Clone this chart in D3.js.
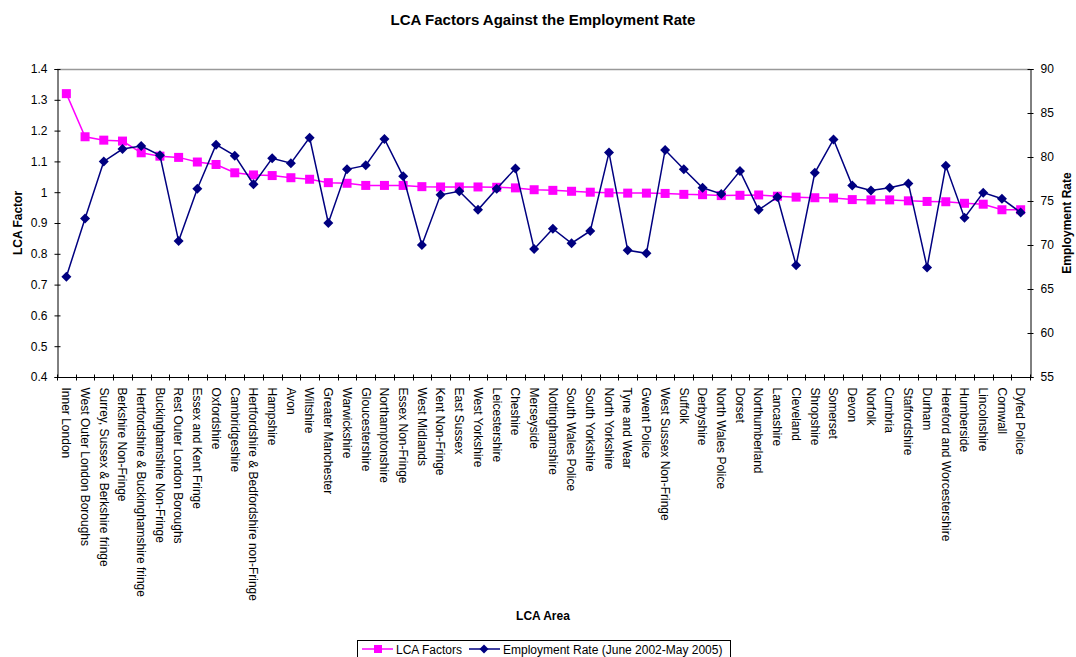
<!DOCTYPE html>
<html>
<head>
<meta charset="utf-8">
<script src="https://cdn.jsdelivr.net/npm/d3@7"></script>
<style>
  html, body { margin: 0; padding: 0; background: #fff; }
  svg { display: block; font-family: "Liberation Sans", Arial, sans-serif; }
</style>
</head>
<body>
<svg id="chart" width="1076" height="657"></svg>
<script>
// LCA areas, ordered by LCA factor
const areas = [
  "Inner London", "West Outer London Boroughs", "Surrey, Sussex & Berkshire fringe",
  "Berkshire Non-Fringe", "Hertfordshire & Buckinghamshire fringe", "Buckinghamshire Non-Fringe",
  "Rest Outer London Boroughs", "Essex and Kent Fringe", "Oxfordshire", "Cambridgeshire",
  "Hertfordshire & Bedfordshire non-Fringe", "Hampshire", "Avon", "Wiltshire",
  "Greater Manchester", "Warwickshire", "Gloucestershire", "Northamptonshire",
  "Essex Non-Fringe", "West Midlands", "Kent Non-Fringe", "East Sussex", "West Yorkshire",
  "Leicestershire", "Cheshire", "Merseyside", "Nottinghamshire", "South Wales Police",
  "South Yorkshire", "North Yorkshire", "Tyne and Wear", "Gwent Police",
  "West Sussex Non-Fringe", "Suffolk", "Derbyshire", "North Wales Police", "Dorset",
  "Northumberland", "Lancashire", "Cleveland", "Shropshire", "Somerset", "Devon",
  "Norfolk", "Cumbria", "Staffordshire", "Durham", "Hereford and Worcestershire",
  "Humberside", "Lincolnshire", "Cornwall", "Dyfed Police"
];

// LCA factor per area (left axis)
const lcaFactors = [
  1.32, 1.18, 1.169, 1.166, 1.128, 1.117, 1.113, 1.098, 1.09, 1.063,
  1.056, 1.054, 1.047, 1.042, 1.031, 1.029, 1.022, 1.022, 1.022, 1.018,
  1.017, 1.017, 1.017, 1.016, 1.014, 1.008, 1.006, 1.003, 1.0, 0.998,
  0.997, 0.997, 0.996, 0.993, 0.992, 0.989, 0.99, 0.991, 0.987, 0.984,
  0.982, 0.981, 0.976, 0.975, 0.975, 0.972, 0.97, 0.969, 0.964, 0.961,
  0.943, 0.943
];

// Employment rate (%), June 2002 - May 2005 (right axis)
const employmentRate = [
  66.4, 73.0, 79.5, 80.9, 81.25, 80.2, 70.45, 76.4, 81.4, 80.15,
  76.9, 79.85, 79.3, 82.2, 72.5, 78.6, 79.05, 82.05, 77.8, 70.0,
  75.7, 76.1, 74.0, 76.4, 78.7, 69.55, 71.85, 70.2, 71.6, 80.5,
  69.4, 69.05, 80.8, 78.6, 76.5, 75.8, 78.4, 74.0, 75.45, 67.7,
  78.2, 82.0, 76.75, 76.2, 76.5, 77.0, 67.45, 79.0, 73.1, 75.95,
  75.25, 73.7
];

const leftTicks = [0.4, 0.5, 0.6, 0.7, 0.8, 0.9, 1.0, 1.1, 1.2, 1.3, 1.4];
const rightTicks = [55, 60, 65, 70, 75, 80, 85, 90];

const seriesNames = ["LCA Factors", "Employment Rate (June 2002-May 2005)"];
const pink = "#ff00ff";
const navy = "#000080";
const fs = 12;

const svg = d3.select("#chart");
const plot = { left: 57, right: 1030, top: 69, bottom: 377 };

const x = d3.scaleBand().domain(areas).range([plot.left, plot.right]).padding(0);
const yLeft = d3.scaleLinear().domain([0.4, 1.4]).range([plot.bottom, plot.top]);
const yRight = d3.scaleLinear().domain([55, 90]).range([plot.bottom, plot.top]);
const cx = d => x(d) + x.bandwidth() / 2;

// Title
svg.append("text")
  .attr("x", 543).attr("y", 25)
  .attr("text-anchor", "middle")
  .attr("font-size", 15).attr("font-weight", "bold")
  .text("LCA Factors Against the Employment Rate");

// Top border of the plot area
svg.append("line")
  .attr("x1", plot.left).attr("x2", plot.right)
  .attr("y1", plot.top + 0.5).attr("y2", plot.top + 0.5)
  .attr("stroke", "#999").attr("stroke-width", 1.5);

// Left axis (tick marks cross the axis line)
const gL = svg.append("g")
  .attr("transform", `translate(${plot.left + 0.5},0)`)
  .call(d3.axisLeft(yLeft).tickValues(leftTicks).tickSize(3).tickPadding(7)
    .tickFormat(d => d === 1 ? "1" : d3.format(".1f")(d)));
gL.selectAll(".tick line").attr("x1", 3);

// Right axis
const gR = svg.append("g")
  .attr("transform", `translate(${plot.right + 0.5},0)`)
  .call(d3.axisRight(yRight).tickValues(rightTicks).tickSize(3).tickPadding(7));
gR.selectAll(".tick line").attr("x1", -3);

[gL, gR].forEach(g => {
  g.select(".domain").attr("stroke", "#000");
  g.selectAll(".tick line").attr("stroke", "#000");
  g.selectAll(".tick text").attr("font-size", fs).attr("fill", "#000")
    .attr("font-family", "Liberation Sans, Arial, sans-serif");
});

// Bottom axis: ticks at category boundaries, labels rotated
const gB = svg.append("g").attr("transform", `translate(0,${plot.bottom + 0.5})`);
gB.append("line")
  .attr("x1", plot.left).attr("x2", plot.right + 1)
  .attr("stroke", "#000");
const bounds = areas.map(a => x(a)).concat([plot.right]);
gB.selectAll("line.tk").data(bounds).join("line")
  .attr("class", "tk")
  .attr("x1", d => Math.round(d) + 0.5).attr("x2", d => Math.round(d) + 0.5)
  .attr("y1", -3).attr("y2", 3)
  .attr("stroke", "#000");
gB.selectAll("text.cat").data(areas).join("text")
  .attr("class", "cat")
  .attr("transform", d => `translate(${cx(d)},10) rotate(90)`)
  .attr("dy", "0.35em")
  .attr("text-anchor", "start")
  .attr("font-size", fs)
  .text(d => d);

// Axis titles
svg.append("text")
  .attr("transform", `translate(22,${(plot.top + plot.bottom) / 2}) rotate(-90)`)
  .attr("text-anchor", "middle")
  .attr("font-size", fs).attr("font-weight", "bold")
  .text("LCA Factor");
svg.append("text")
  .attr("transform", `translate(1071,${(plot.top + plot.bottom) / 2}) rotate(-90)`)
  .attr("text-anchor", "middle")
  .attr("font-size", fs).attr("font-weight", "bold")
  .text("Employment Rate");
svg.append("text")
  .attr("x", 543).attr("y", 620)
  .attr("text-anchor", "middle")
  .attr("font-size", fs).attr("font-weight", "bold")
  .text("LCA Area");

// Series
const lcaLine = d3.line().x((d, i) => cx(areas[i])).y(d => yLeft(d));
const empLine = d3.line().x((d, i) => cx(areas[i])).y(d => yRight(d));

svg.append("path").datum(lcaFactors)
  .attr("d", lcaLine).attr("fill", "none")
  .attr("stroke", pink).attr("stroke-width", 1.5);
svg.append("g").selectAll("rect").data(lcaFactors).join("rect")
  .attr("x", (d, i) => cx(areas[i]) - 4.5)
  .attr("y", d => yLeft(d) - 4.5)
  .attr("width", 9).attr("height", 9)
  .attr("fill", pink);

svg.append("path").datum(employmentRate)
  .attr("d", empLine).attr("fill", "none")
  .attr("stroke", navy).attr("stroke-width", 1.5);
const diamond = "M0,-5L5,0L0,5L-5,0Z";
svg.append("g").selectAll("path").data(employmentRate).join("path")
  .attr("d", diamond)
  .attr("transform", (d, i) => `translate(${cx(areas[i])},${yRight(d)})`)
  .attr("fill", navy);

// Legend
const lg = svg.append("g");
lg.append("rect")
  .attr("x", 357.5).attr("y", 640.5)
  .attr("width", 373).attr("height", 17)
  .attr("fill", "#fff").attr("stroke", "#000");
lg.append("line").attr("x1", 362).attr("x2", 393).attr("y1", 649).attr("y2", 649)
  .attr("stroke", pink).attr("stroke-width", 1.5);
lg.append("rect").attr("x", 374).attr("y", 645).attr("width", 8).attr("height", 8).attr("fill", pink);
lg.append("text").attr("x", 396).attr("y", 653.5).attr("font-size", fs).text(seriesNames[0]);
lg.append("line").attr("x1", 469).attr("x2", 500).attr("y1", 649).attr("y2", 649)
  .attr("stroke", navy).attr("stroke-width", 1.5);
lg.append("path").attr("d", "M0,-4.5L4.5,0L0,4.5L-4.5,0Z")
  .attr("transform", "translate(484,649)").attr("fill", navy);
lg.append("text").attr("x", 503).attr("y", 653.5).attr("font-size", fs).text(seriesNames[1]);
</script>
</body>
</html>
